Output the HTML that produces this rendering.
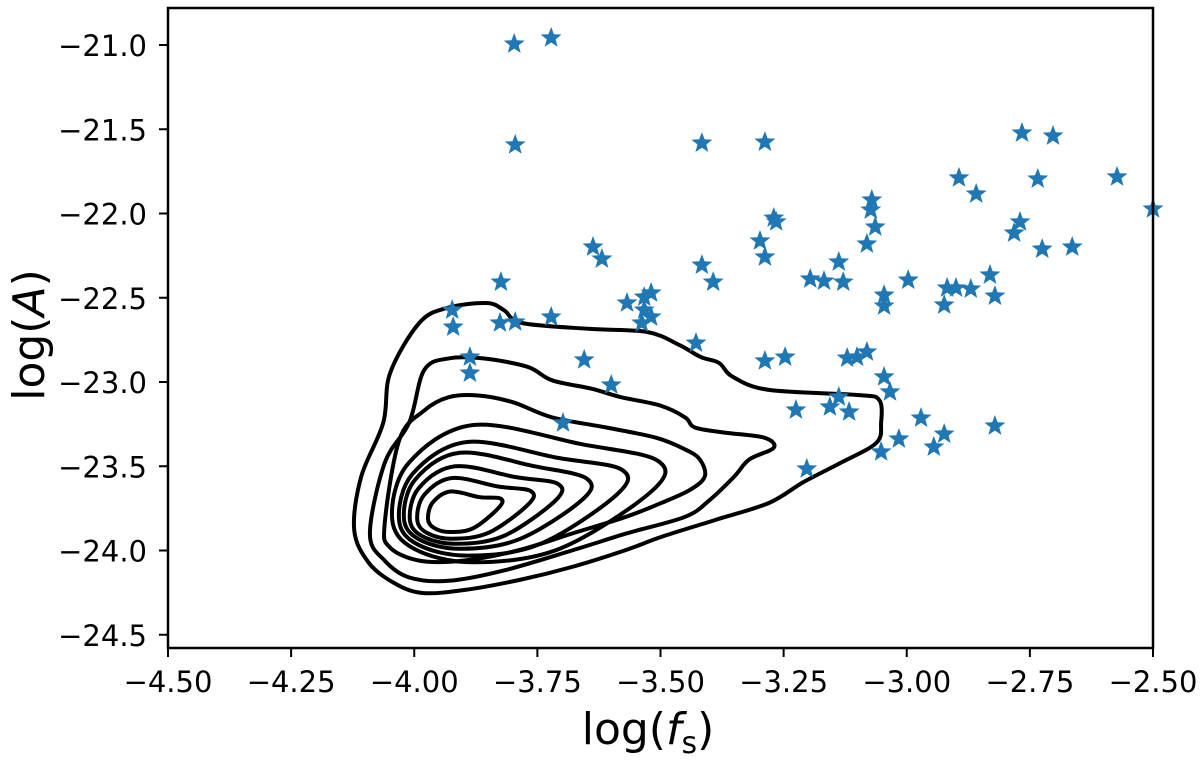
<!DOCTYPE html>
<html><head><meta charset="utf-8"><style>
html,body{margin:0;padding:0;background:#fff;}
svg text{font-family:"DejaVu Sans","Liberation Sans",sans-serif;fill:#000;}
</style></head><body>
<svg id="chart" width="1200" height="757" viewBox="0 0 1200 757" xmlns="http://www.w3.org/2000/svg">
<g id="contours"></g>
<g id="stars"></g>
<rect x="168" y="8" width="985" height="640" fill="none" stroke="#000" stroke-width="2.5"/>
<g id="xticks"></g>
<g id="yticks"></g>
<text x="648" y="744" font-size="44" text-anchor="middle">log(<tspan font-style="italic">f</tspan><tspan font-size="30" dy="9">s</tspan><tspan dy="-9">)</tspan></text>
<text transform="translate(44,335) rotate(-90)" font-size="44" text-anchor="middle">log(<tspan font-style="italic">A</tspan>)</text>
</svg>
<script>
const xTicks=[-4.50,-4.25,-4.00,-3.75,-3.50,-3.25,-3.00,-2.75,-2.50];
const xTickLabels=["\u22124.50","\u22124.25","\u22124.00","\u22123.75","\u22123.50","\u22123.25","\u22123.00","\u22122.75","\u22122.50"];
const yTicks=[-21.0,-21.5,-22.0,-22.5,-23.0,-23.5,-24.0,-24.5];
const yTickLabels=["\u221221.0","\u221221.5","\u221222.0","\u221222.5","\u221223.0","\u221223.5","\u221224.0","\u221224.5"];
const starX=[-3.795,-3.416,-3.288,-2.766,-2.703,-2.894,-2.734,-2.573,-2.859,-2.50,-3.071,-3.073,-3.064,-3.081,-3.270,-3.265,-3.298,-3.288,-2.770,-2.782,-2.725,-2.664,-3.637,-3.619,-3.416,-3.393,-3.138,-3.196,-3.168,-3.129,-2.997,-2.831,-2.918,-2.900,-2.870,-2.821,-3.046,-3.046,-2.924,-3.824,-3.519,-3.533,-3.568,-3.533,-3.519,-3.538,-3.923,-3.921,-3.826,-3.795,-3.722,-3.428,-3.887,-3.887,-3.655,-3.600,-3.698,-3.288,-3.247,-3.121,-3.101,-3.081,-3.046,-3.034,-3.138,-3.156,-3.117,-3.225,-2.971,-2.924,-3.016,-2.945,-2.821,-3.052,-3.203,-3.797,-3.722];
const starY=[-21.593,-21.582,-21.576,-21.522,-21.540,-21.789,-21.795,-21.783,-21.884,-21.973,-21.920,-21.979,-22.080,-22.181,-22.027,-22.050,-22.163,-22.258,-22.050,-22.116,-22.211,-22.199,-22.199,-22.270,-22.306,-22.407,-22.288,-22.389,-22.401,-22.407,-22.395,-22.365,-22.442,-22.442,-22.448,-22.490,-22.484,-22.549,-22.543,-22.407,-22.472,-22.496,-22.531,-22.573,-22.614,-22.650,-22.573,-22.674,-22.650,-22.644,-22.614,-22.769,-22.852,-22.947,-22.869,-23.018,-23.243,-22.875,-22.852,-22.858,-22.852,-22.822,-22.970,-23.059,-23.089,-23.148,-23.178,-23.166,-23.214,-23.309,-23.338,-23.386,-23.261,-23.415,-23.516,-20.994,-20.958];
const contour1X=[-4.122,-4.108,-4.063,-4.049,-3.990,-3.934,-3.854,-3.818,-3.781,-3.643,-3.527,-3.462,-3.418,-3.381,-3.353,-3.280,-3.099,-3.056,-3.052,-3.062,-3.135,-3.209,-3.280,-3.389,-3.499,-3.570,-3.680,-3.787,-3.897,-3.984,-4.041,-4.092];
const contour1Y=[-23.878,-23.564,-23.243,-22.947,-22.650,-22.561,-22.531,-22.573,-22.650,-22.685,-22.703,-22.780,-22.852,-22.887,-22.970,-23.047,-23.077,-23.107,-23.243,-23.362,-23.481,-23.593,-23.718,-23.819,-23.920,-23.997,-24.098,-24.175,-24.234,-24.252,-24.193,-24.074];
const contour2X=[-4.09,-4.06,-4.01,-3.98,-3.93,-3.86,-3.77,-3.72,-3.64,-3.58,-3.50,-3.45,-3.43,-3.37,-3.29,-3.27,-3.32,-3.35,-3.40,-3.45,-3.57,-3.68,-3.82,-3.93,-4.01,-4.06];
const contour2Y=[-23.90,-23.48,-23.24,-22.93,-22.86,-22.86,-22.91,-22.99,-23.04,-23.09,-23.14,-23.21,-23.27,-23.30,-23.33,-23.39,-23.46,-23.56,-23.70,-23.80,-23.90,-24.00,-24.12,-24.18,-24.16,-24.06];
const contour3X=[-4.06,-4.03,-3.98,-3.93,-3.87,-3.80,-3.72,-3.61,-3.51,-3.45,-3.42,-3.41,-3.44,-3.50,-3.57,-3.68,-3.79,-3.90,-3.99,-4.05];
const contour3Y=[-23.84,-23.34,-23.17,-23.09,-23.08,-23.12,-23.21,-23.27,-23.33,-23.40,-23.46,-23.56,-23.64,-23.72,-23.80,-23.90,-24.00,-24.06,-24.06,-23.98];
// inner contour extents: left, right, top, bottom, y at right tip
const innerLeft=[-4.045,-4.031,-4.021,-4.009,-3.994,-3.972];
const innerRight=[-3.495,-3.570,-3.643,-3.702,-3.759,-3.822];
const innerTop=[-23.255,-23.356,-23.42,-23.50,-23.57,-23.65];
const innerBottom=[-24.07,-24.03,-23.99,-23.96,-23.93,-23.89];
const innerTipY=[-23.564,-23.60,-23.64,-23.66,-23.69,-23.72];

const X0=168,X1=1153,Y0=45,Y1=634.75;
const sx=v=>X0+(v-(-4.5))/2.0*(X1-X0);
const sy=v=>Y0+(-21-v)/3.5*(Y1-Y0);
const NS="http://www.w3.org/2000/svg";
function mk(t,a,p){const e=document.createElementNS(NS,t);for(const k in a)e.setAttribute(k,a[k]);p.appendChild(e);return e;}
function closedPath(pts){
  const n=pts.length;let d=`M${pts[0][0].toFixed(1)},${pts[0][1].toFixed(1)}`;
  for(let i=0;i<n;i++){const p0=pts[(i-1+n)%n],p1=pts[i],p2=pts[(i+1)%n],p3=pts[(i+2)%n];
    const c1=[p1[0]+(p2[0]-p0[0])/6,p1[1]+(p2[1]-p0[1])/6],c2=[p2[0]-(p3[0]-p1[0])/6,p2[1]-(p3[1]-p1[1])/6];
    d+=`C${c1[0].toFixed(1)},${c1[1].toFixed(1)} ${c2[0].toFixed(1)},${c2[1].toFixed(1)} ${p2[0].toFixed(1)},${p2[1].toFixed(1)}`;}
  return d+"Z";}
const cg=document.getElementById('contours');
[[contour1X,contour1Y],[contour2X,contour2Y],[contour3X,contour3Y]].forEach((c,i)=>{
  const pts=c[0].map((x,j)=>[sx(x),sy(c[1][j])]);
  const p=mk('path',{d:closedPath(pts),fill:'none',stroke:'#000','stroke-width':4},cg);
  
  
});
innerLeft.forEach((L,i)=>{
  const R=innerRight[i],T=innerTop[i],B=innerBottom[i],yR=innerTipY[i],w=R-L,h=T-B;
  const dp=[[L,B+0.32*h],[L+0.06*w,B+0.72*h],[L+0.3*w,T],[L+0.7*w,T-0.14*h],[R-0.02*w,yR+0.12*h],[R-0.04*w,yR-0.1*h],[L+0.62*w,B+0.1*h],[L+0.3*w,B],[L+0.08*w,B+0.1*h]];
  const pts=dp.map(q=>[sx(q[0]),sy(q[1])]);
  const p=mk('path',{d:closedPath(pts),fill:'none',stroke:'#000','stroke-width':4},cg);
  
  
});
const sg=document.getElementById('stars');
function starPts(cx,cy,r){let s=[];for(let k=0;k<10;k++){const a=-Math.PI/2+k*Math.PI/5,rr=k%2?r*0.42:r;s.push((cx+rr*Math.cos(a)).toFixed(1)+','+(cy+rr*Math.sin(a)).toFixed(1));}return s.join(' ');}
starX.forEach((x,i)=>{
  const s=mk('polygon',{points:starPts(sx(x),sy(starY[i]),11),fill:'#1f77b4'},sg);
  
  
});
const xg=document.getElementById('xticks');
xTicks.forEach((v,i)=>{
  const l=mk('line',{x1:sx(v),x2:sx(v),y1:648,y2:657,stroke:'#000','stroke-width':2},xg);
  
  
  const t=mk('text',{x:sx(v),y:692,'font-size':29,'text-anchor':'middle'},xg);
  t.textContent=xTickLabels[i];
  
  
});
const yg=document.getElementById('yticks');
yTicks.forEach((v,i)=>{
  const l=mk('line',{x1:159,x2:168,y1:sy(v),y2:sy(v),stroke:'#000','stroke-width':2},yg);
  
  
  const t=mk('text',{x:147,y:sy(v)+11,'font-size':29,'text-anchor':'end'},yg);
  t.textContent=yTickLabels[i];
  
  
});
</script>
</body></html>
